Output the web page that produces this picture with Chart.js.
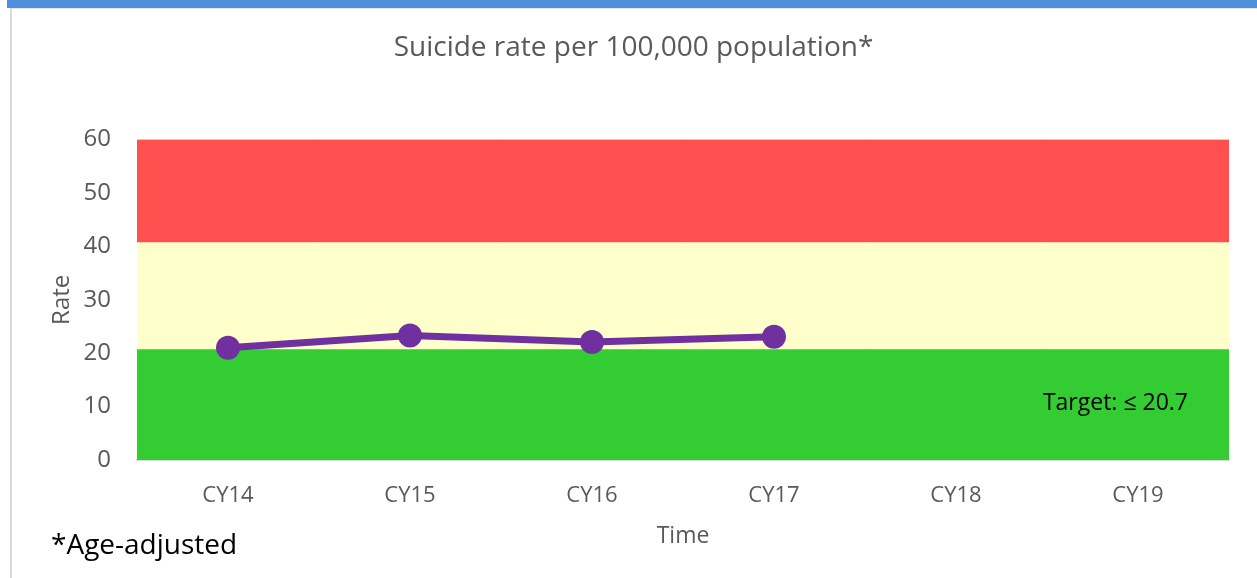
<!DOCTYPE html>
<html>
<head>
	<script src="https://cdn.jsdelivr.net/npm/chart.js@4/dist/chart.umd.min.js"></script>
	<style>
		body{margin:0;background:#fff;width:1257px;height:578px;overflow:hidden;position:relative;}
		#topBar{position:absolute;left:7px;top:0;width:1250px;height:8px;background:#4e8fdc;}
		#frame{position:absolute;left:10px;top:8px;width:1247px;height:570px;border-left:2px solid #d9d9d9;border-top:1px solid #e6e6e6;box-sizing:border-box;}
		#chart{position:absolute;left:0;top:0;}
	</style>
</head>
<body>
	<div id="topBar"></div>
	<div id="frame"></div>
	<canvas id="chart" width="1257" height="578"></canvas>
<script>
	// values
	var categories = ["CY14","CY15","CY16","CY17","CY18","CY19"];
	var rates = [21.0,23.3,22.1,23.1,null,null];
	// background bands (stacked): green up to 20.7, yellow up to 40.7, red up to 60
	var greenBand = [20.7,20.7,20.7,20.7,20.7,20.7];
	var yellowBand = [20,20,20,20,20,20];
	var redBand = [19.3,19.3,19.3,19.3,19.3,19.3];
	var yTicks = [0,10,20,30,40,50,60];

	var textPlugin = {
		id:"extraText",
		afterDraw:function(chart){
			var ctx = chart.ctx;
			var area = chart.chartArea;
			ctx.save();
			ctx.fillStyle = "#000";
			ctx.font = "23px 'Open Sans'";
			ctx.textAlign = "right";
			ctx.textBaseline = "middle";
			ctx.fillText("Target: \u2264 20.7", area.right - 41, chart.scales.y.getPixelForValue(10.5));
			ctx.font = "28px 'Open Sans'";
			ctx.textAlign = "left";
			ctx.fillText("*Age-adjusted", 51, 546);
			ctx.restore();
		}
	};

	var bandBar = function(label,data,color){
		return {type:"bar",label:label,data:data,backgroundColor:color,borderWidth:0,
			barPercentage:1,categoryPercentage:1,order:1,stack:"bands"};
	};

	new Chart(document.getElementById("chart").getContext("2d"),{
		data:{
			labels:categories,
			datasets:[
				{type:"line",label:"Rate",data:rates,borderColor:"#7030a0",backgroundColor:"#7030a0",
					borderWidth:7,pointRadius:12,pointBackgroundColor:"#7030a0",pointBorderWidth:0,
					tension:0,order:0,stack:"line"},
				bandBar("green",greenBand,"#33cc33"),
				bandBar("yellow",yellowBand,"#ffffcc"),
				bandBar("red",redBand,"#ff5050")
			]
		},
		options:{
			responsive:false,
			animation:false,
			layout:{padding:{left:38,right:28,top:0,bottom:0}},
			plugins:{
				legend:{display:false},
				tooltip:{enabled:false},
				title:{display:true,text:"Suicide rate per 100,000 population*",color:"#595959",
					font:{family:"'Open Sans'",size:28,weight:"normal"},padding:{top:31,bottom:75}}
			},
			scales:{
				x:{
					stacked:true,
					grid:{display:false},
					border:{display:true,color:"#d9d9d9",width:2},
					ticks:{color:"#595959",font:{family:"'Open Sans'",size:22},padding:15},
					title:{display:true,text:"Time",color:"#595959",font:{family:"'Open Sans'",size:23},padding:{top:0,bottom:28}},
					afterFit:function(s){s.height = 118;}
				},
				y:{
					stacked:true,
					min:0,max:60,
					afterBuildTicks:function(s){s.ticks = yTicks.map(function(v){return {value:v};});},
					grid:{display:false},
					border:{display:false},
					ticks:{color:"#595959",font:{family:"'Open Sans'",size:24},padding:18},
					title:{display:true,text:"Rate",color:"#595959",font:{family:"'Open Sans'",size:24},padding:{top:10,bottom:0}},
					afterFit:function(s){s.width = 99;}
				}
			}
		},
		plugins:[textPlugin]
	});
</script>
</body>
</html>
